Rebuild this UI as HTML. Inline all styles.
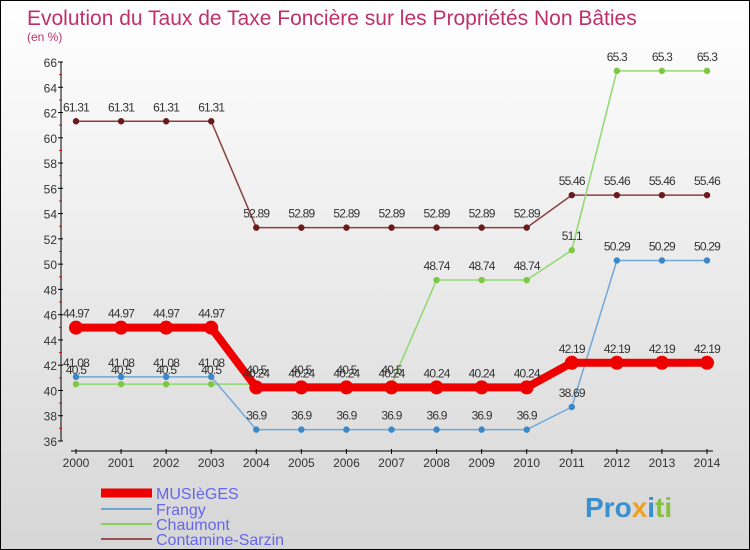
<!DOCTYPE html>
<html><head><meta charset="utf-8"><style>
body{margin:0}
#c{width:748px;height:548px;border:1px solid #000;background:linear-gradient(#ffffff,#d6d6d6);position:relative;font-family:"Liberation Sans",sans-serif;overflow:hidden}
</style></head><body>
<div id="c">
<svg id="s" width="748" height="548" xmlns="http://www.w3.org/2000/svg">
<text x="26" y="24" font-size="21" fill="#c0306a">Evolution du Taux de Taxe Foncière sur les Propriétés Non Bâties</text>
<text x="26" y="40" font-size="12" fill="#c0306a">(en %)</text>
<g id="axes"></g><g id="series"></g>
<g>
<line x1="100" y1="492" x2="151" y2="492" stroke="#e00" stroke-width="9"/>
<text x="155" y="498" font-size="16" fill="#6666ee">MUSIèGES</text>
<line x1="100" y1="508" x2="151" y2="508" stroke="#6fa8d0" stroke-width="2"/>
<text x="155" y="514" font-size="16" fill="#6666ee">Frangy</text>
<line x1="100" y1="523" x2="151" y2="523" stroke="#88d060" stroke-width="2"/>
<text x="155" y="529" font-size="16" fill="#6666ee">Chaumont</text>
<line x1="100" y1="538" x2="151" y2="538" stroke="#9a5050" stroke-width="2"/>
<text x="155" y="544" font-size="16" fill="#6666ee">Contamine-Sarzin</text>
</g>
<text x="584" y="516" font-size="28" font-weight="bold" fill="#3a8fd0">Pro<tspan fill="#f0a020">x</tspan><tspan fill="#3a8fd0">i</tspan><tspan fill="#88c040">ti</tspan></text>
</svg></div>
<script>
const years=[2000,2001,2002,2003,2004,2005,2006,2007,2008,2009,2010,2011,2012,2013,2014];
const yTicks=[36,38,40,42,44,46,48,50,52,54,56,58,60,62,64,66];
const musieges=[44.97,44.97,44.97,44.97,40.24,40.24,40.24,40.24,40.24,40.24,40.24,42.19,42.19,42.19,42.19];
const frangy=[41.08,41.08,41.08,41.08,36.9,36.9,36.9,36.9,36.9,36.9,36.9,38.69,50.29,50.29,50.29];
const chaumont=[40.5,40.5,40.5,40.5,40.5,40.5,40.5,40.5,48.74,48.74,48.74,51.1,65.3,65.3,65.3];
const contamine=[61.31,61.31,61.31,61.31,52.89,52.89,52.89,52.89,52.89,52.89,52.89,55.46,55.46,55.46,55.46];
const NS="http://www.w3.org/2000/svg";
const X=i=>75+i*(706-75)/(years.length-1);
const Y=v=>440-(v-36)*(440-61)/30;
function mk(t,a,p){const e=document.createElementNS(NS,t);for(const k in a)e.setAttribute(k,a[k]);p.appendChild(e);return e;}
const ax=document.getElementById('axes');
mk('line',{x1:60,y1:61,x2:60,y2:440,stroke:'#000'},ax);
yTicks.forEach(v=>{mk('line',{x1:57,y1:Y(v),x2:62,y2:Y(v),stroke:'#000'},ax);
 if(v<66)mk('line',{x1:58,y1:Y(v+1),x2:61,y2:Y(v+1),stroke:'#e00'},ax);
 const t=mk('text',{x:56,y:Y(v)+5,'font-size':12,fill:'#333','text-anchor':'end'},ax);t.textContent=v;
 
 });
mk('line',{x1:70,y1:450,x2:712,y2:450,stroke:'#000'},ax);
years.forEach((y,i)=>{mk('line',{x1:X(i),y1:448,x2:X(i),y2:453,stroke:'#000'},ax);
 const t=mk('text',{x:X(i),y:466,'font-size':12,fill:'#333','text-anchor':'middle'},ax);t.textContent=y;
 
 });
const sg=document.getElementById('series');
function draw(vals,col,w,r,name,dot){
 const g=mk('g',{},sg);
 
 
 mk('polyline',{points:vals.map((v,i)=>X(i)+','+Y(v)).join(' '),fill:'none',stroke:col,'stroke-width':w},g);
 vals.forEach((v,i)=>{const c=mk('circle',{cx:X(i),cy:Y(v),r:r,fill:dot},g);
  
  
  const t=mk('text',{x:X(i),y:Y(v)-10,'font-size':12,fill:'#333','text-anchor':'middle','letter-spacing':'-0.8'},g);t.textContent=v;
  
  });
}
draw(contamine,'#8a4040',1.5,3.2,'contamine-sarzin','#6a1a1a');
draw(chaumont,'#90d870',1.5,3.2,'chaumont','#7cc840');
draw(frangy,'#70a8d8',1.5,3.2,'frangy','#3a88c8');
draw(musieges,'#ee0000',8,7,'musieges','#ee0000');
</script></body></html>
